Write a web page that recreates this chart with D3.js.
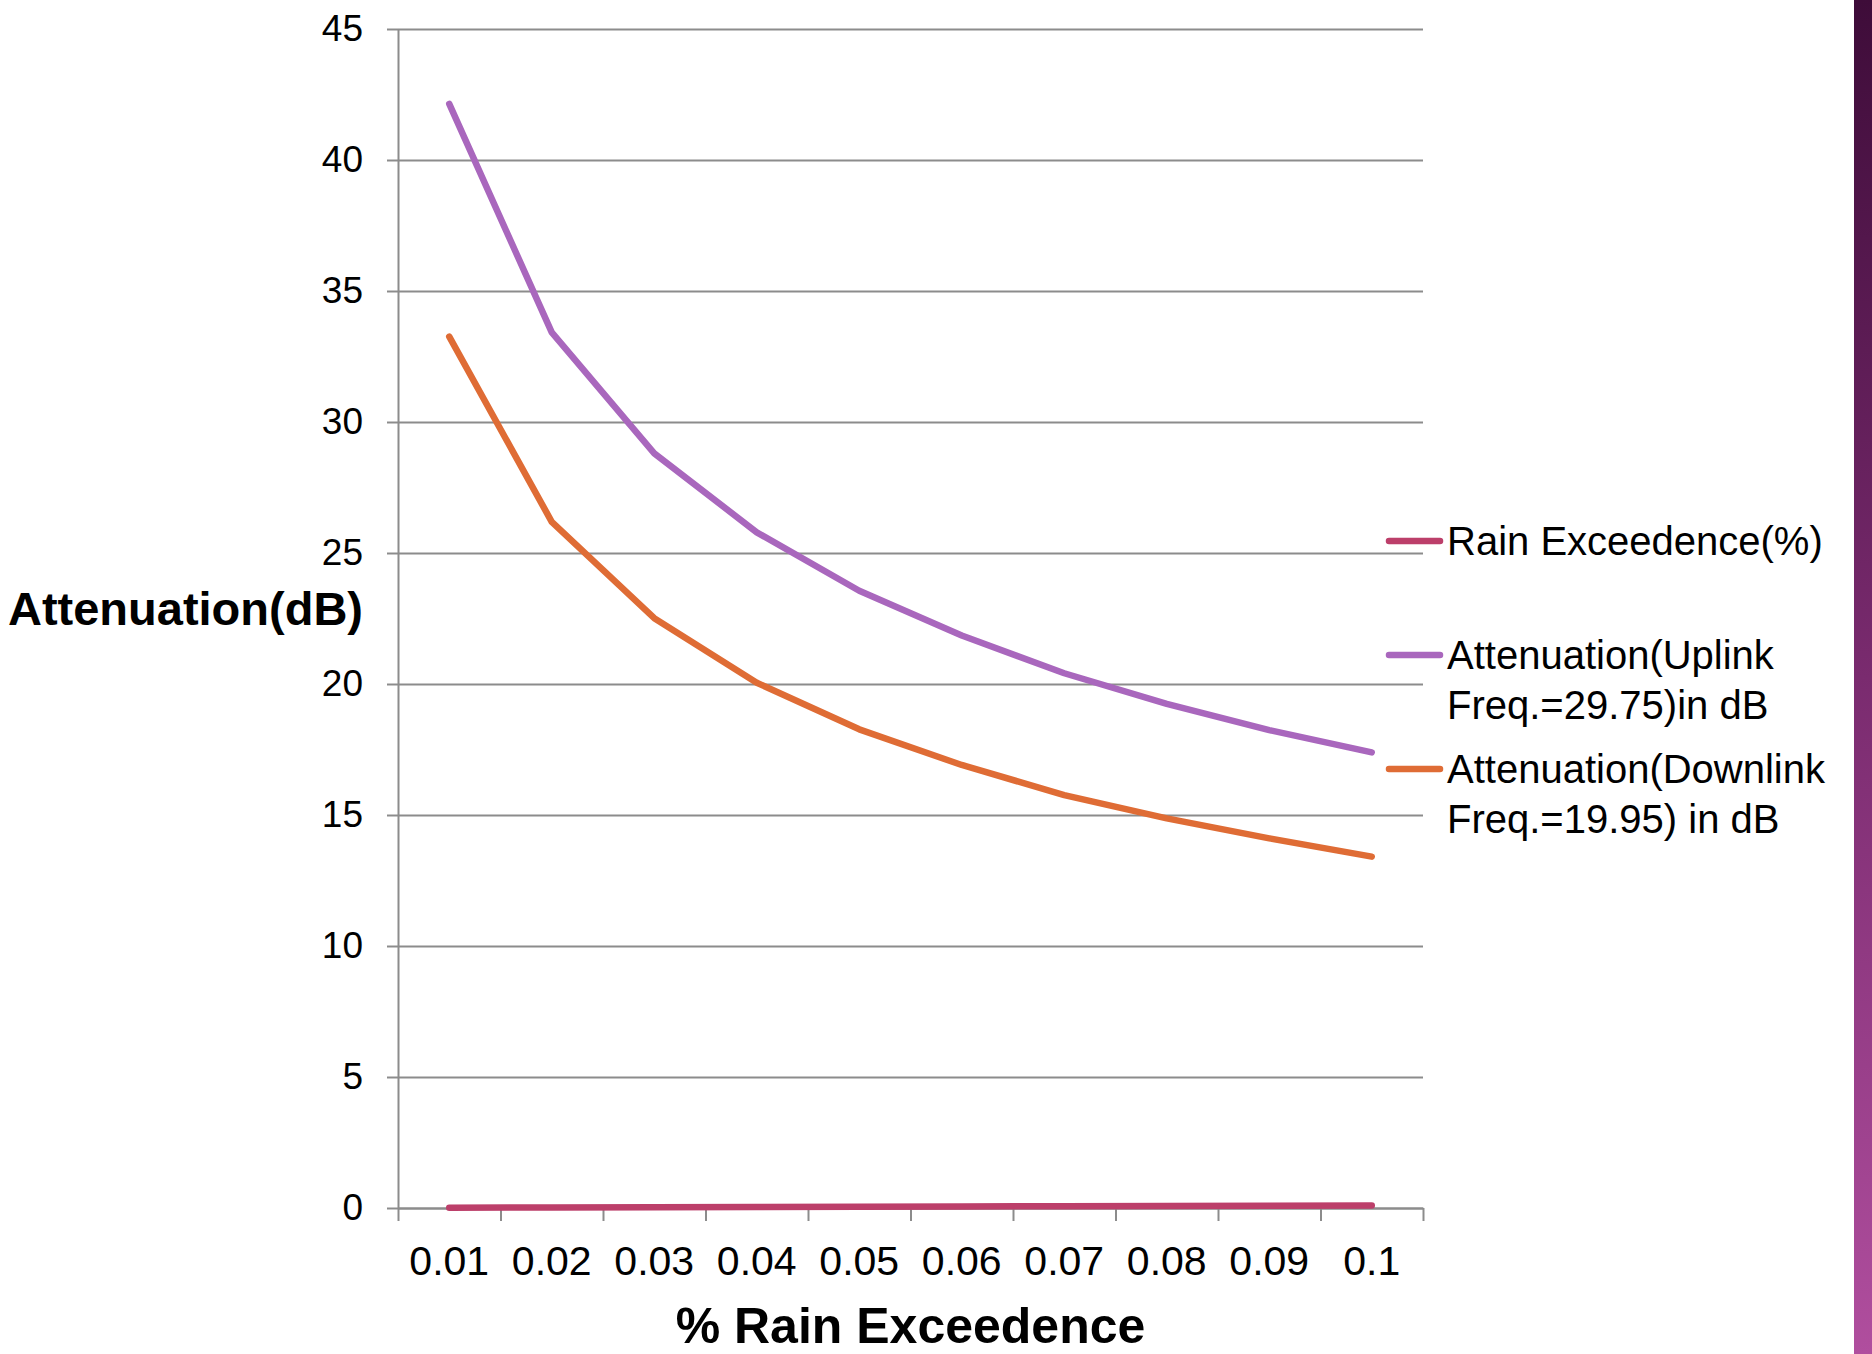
<!DOCTYPE html>
<html>
<head>
<meta charset="utf-8">
<script src="https://cdn.jsdelivr.net/npm/d3@7"></script>
<style>
    body { margin: 0; background: #fff; }
    text { font-family: "Liberation Sans", Arial, sans-serif; fill: #000; }
</style>
</head>
<body>
<div id="chart"></div>
<script>
// ##### DATA #####
var categories = ["0.01", "0.02", "0.03", "0.04", "0.05", "0.06", "0.07", "0.08", "0.09", "0.1"];
var rainExceedence = [0.01, 0.02, 0.03, 0.04, 0.05, 0.06, 0.07, 0.08, 0.09, 0.1];
var uplink = [42.14, 33.42, 28.80, 25.79, 23.56, 21.85, 20.41, 19.24, 18.24, 17.39];
var downlink = [33.26, 26.19, 22.51, 20.05, 18.27, 16.91, 15.76, 14.87, 14.11, 13.41];
var yTicks = [0, 5, 10, 15, 20, 25, 30, 35, 40, 45];

var seriesNames = [
    ["Rain Exceedence(%)"],
    ["Attenuation(Uplink", "Freq.=29.75)in dB"],
    ["Attenuation(Downlink", "Freq.=19.95) in dB"]
];
var seriesColors = ["#bc3f6a", "#a967bd", "#df6c35"];

var W = 1872, H = 1354;
// plot area ("top" is a reserved window property, so use pl/pr/pt/pb)
var pl = 398, pr = 1423, pt = 29, pb = 1208;

var svg = d3.select("#chart").append("svg")
    .attr("width", W)
    .attr("height", H);

svg.append("rect").attr("width", W).attr("height", H).attr("fill", "#fff");

// purple strip on the right edge
var grad = svg.append("defs").append("linearGradient")
    .attr("id", "strip")
    .attr("x1", "0%").attr("y1", "0%")
    .attr("x2", "0%").attr("y2", "100%");
grad.append("stop").attr("offset", "0%").attr("stop-color", "#3e0c39");
grad.append("stop").attr("offset", "50%").attr("stop-color", "#7a2b6f");
grad.append("stop").attr("offset", "100%").attr("stop-color", "#b04e9e");
svg.append("rect")
    .attr("x", 1854).attr("y", 0)
    .attr("width", W - 1854).attr("height", H)
    .attr("fill", "url(#strip)");

var x = d3.scaleBand().domain(categories).range([pl, pr]).padding(0);
var xEdges = d3.scaleLinear().domain([0, categories.length]).range([pl, pr]);
var y = d3.scaleLinear().domain([0, 45]).range([pb, pt]);

// gridlines
var grid = svg.append("g")
    .attr("transform", "translate(" + pl + ",0)")
    .call(d3.axisLeft(y).tickValues(yTicks).tickSize(-(pr - pl)).tickFormat(""));
grid.select(".domain").remove();
grid.selectAll("line").attr("stroke", "#8c8c8c").attr("stroke-width", 2);

// y axis
var yAxis = svg.append("g")
    .attr("transform", "translate(" + pl + ",0)")
    .call(d3.axisLeft(y).tickValues(yTicks).tickSize(11).tickPadding(24).tickSizeOuter(0));
yAxis.select(".domain").attr("stroke", "#8c8c8c").attr("stroke-width", 2);
yAxis.selectAll("line").attr("stroke", "#8c8c8c").attr("stroke-width", 2);
yAxis.selectAll("text").style("font-size", "37px");

// x axis: ticks on category edges, labels in the middle
var xTicks = svg.append("g")
    .attr("transform", "translate(0," + pb + ")")
    .call(d3.axisBottom(xEdges).tickValues(d3.range(categories.length + 1)).tickSize(13).tickFormat("").tickSizeOuter(0));
xTicks.select(".domain").attr("stroke", "#8c8c8c").attr("stroke-width", 2);
xTicks.selectAll("line").attr("stroke", "#8c8c8c").attr("stroke-width", 2);

var xLabels = svg.append("g")
    .attr("transform", "translate(0," + pb + ")")
    .call(d3.axisBottom(x).tickSize(0).tickPadding(38));
xLabels.select(".domain").remove();
xLabels.selectAll("text").style("font-size", "41px");

// axis titles
svg.append("text")
    .attr("x", pl - 35).attr("y", 625)
    .attr("text-anchor", "end")
    .style("font-size", "47px").style("font-weight", "bold")
    .text("Attenuation(dB)");

svg.append("text")
    .attr("x", (pl + pr) / 2).attr("y", 1343)
    .attr("text-anchor", "middle")
    .style("font-size", "50px").style("font-weight", "bold")
    .text("% Rain Exceedence");

// lines
var line = d3.line()
    .x(function(d, i) { return x(categories[i]) + x.bandwidth() / 2; })
    .y(function(d) { return y(d); });

[rainExceedence, uplink, downlink].forEach(function(series, i) {
    svg.append("path")
        .datum(series)
        .attr("d", line)
        .attr("fill", "none")
        .attr("stroke", seriesColors[i])
        .attr("stroke-width", 6.5)
        .attr("stroke-linecap", "round")
        .attr("stroke-linejoin", "round");
});

// legend
var legendY = [541, 655, 769];
seriesNames.forEach(function(lines, i) {
    var g = svg.append("g").attr("transform", "translate(0," + legendY[i] + ")");
    g.append("line")
        .attr("x1", 1389).attr("x2", 1440)
        .attr("stroke", seriesColors[i])
        .attr("stroke-width", 6.5)
        .attr("stroke-linecap", "round");
    lines.forEach(function(t, j) {
        g.append("text")
            .attr("x", 1447).attr("y", 14 + j * 50)
            .style("font-size", "40px")
            .text(t);
    });
});
</script>
</body>
</html>
